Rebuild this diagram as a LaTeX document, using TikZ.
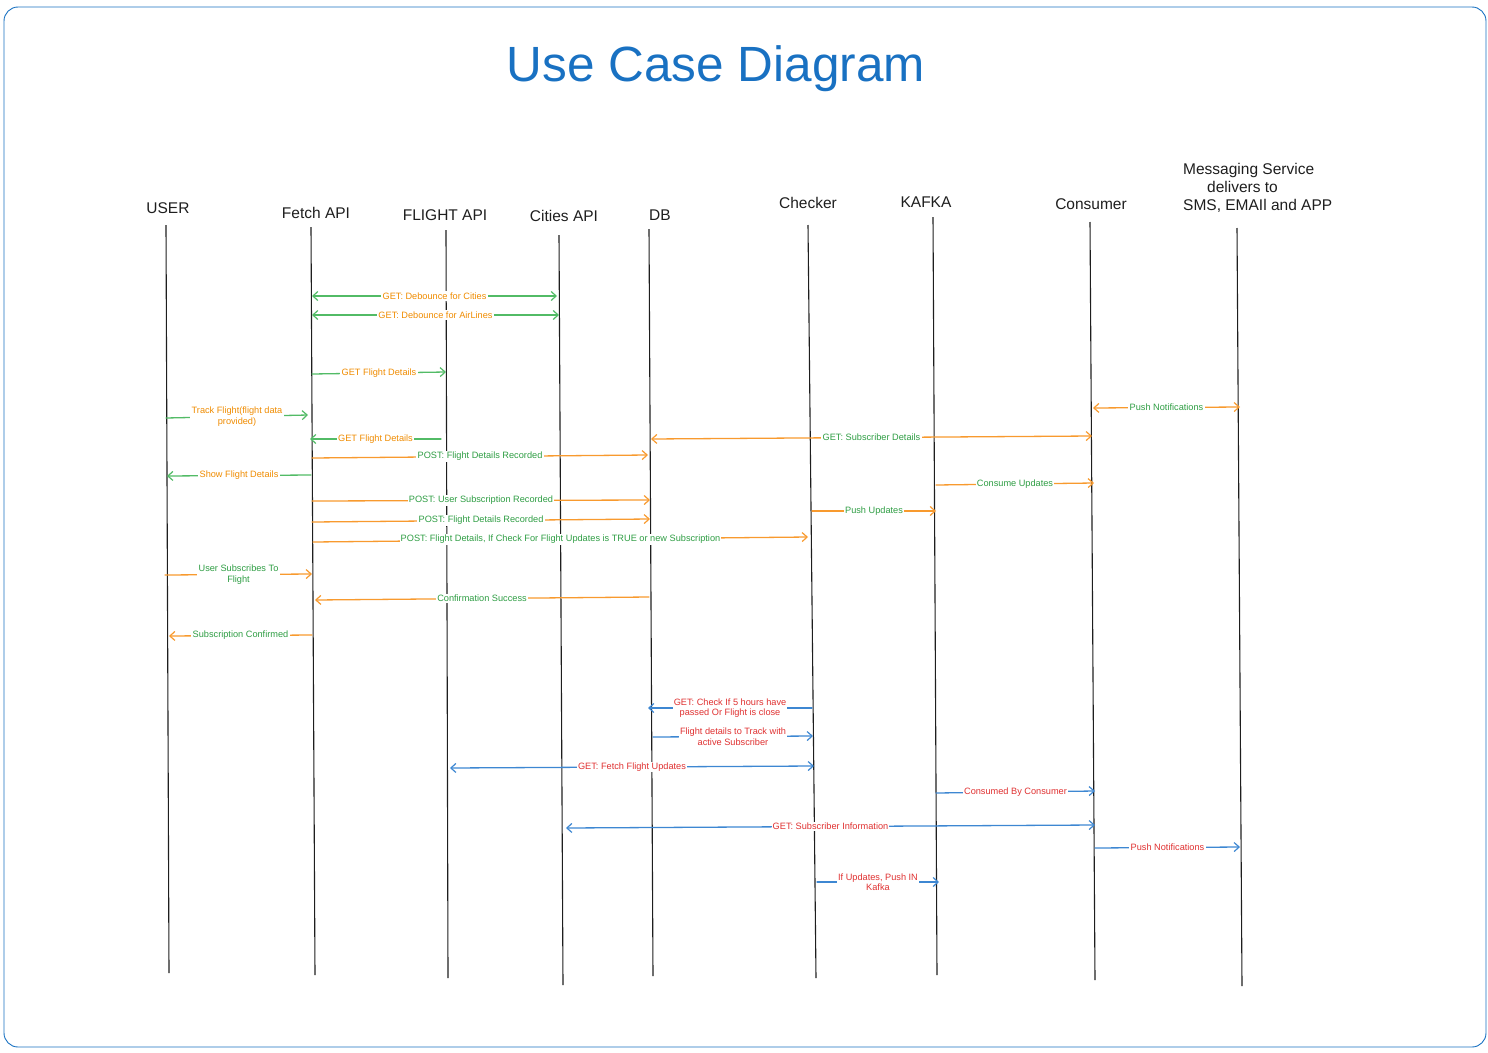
\documentclass[tikz,border=0pt]{standalone}
\usepackage{fontspec}
\setmainfont{Liberation Sans}
\usetikzlibrary{arrows.meta}
\definecolor{frameblue}{HTML}{1971C2}
\definecolor{lgreen}{HTML}{52BB66}
\definecolor{lorange}{HTML}{F89A2E}
\definecolor{lblue}{HTML}{3D87D2}
\definecolor{tgreen}{HTML}{2F9E44}
\definecolor{torange}{HTML}{F08C00}
\definecolor{tred}{HTML}{E03131}
\definecolor{ink}{HTML}{1E1E1E}
\begin{document}
\begin{tikzpicture}[x=1pt,y=-1pt,
  frame/.style={draw=frameblue, line width=0.9pt, rounded corners=14pt},
  head/.style={font=\fontsize{15.5}{18}\selectfont, text=ink, align=center, inner sep=0pt},
  life/.style={draw=ink, line width=1.1pt},
  msg/.style={line width=1.3pt, line cap=round},
  one/.style={-{Straight Barb[length=5pt,width=9pt,line width=1.2pt]}},
  two/.style={{Straight Barb[length=5pt,width=9pt,line width=1.2pt]}-{Straight Barb[length=5pt,width=9pt,line width=1.2pt]}},
  lbl/.style={fill=white, inner sep=1.2pt, font=\fontsize{9.2}{10.5}\selectfont, align=center},
  gmsg/.style={msg, draw=lgreen},
  omsg/.style={msg, draw=lorange},
  bmsg/.style={msg, draw=lblue},
  olbl/.style={lbl, text=torange},
  glbl/.style={lbl, text=tgreen},
  rlbl/.style={lbl, text=tred}
]
\useasboundingbox (0,0) rectangle (1488,1052);
\draw[frame] (4,7) rectangle (1486,1047);
\node[font=\fontsize{49.5}{54}\selectfont, text=frameblue, inner sep=0pt] (title) at (716,69) {Use Case Diagram};

% lifeline heads
\node[head] (user) at (168,208) {USER};
\node[head] (fetch) at (316,213) {Fetch API};
\node[head] (flight) at (445,215) {FLIGHT API};
\node[head] (cities) at (564,216) {Cities API};
\node[head] (db) at (660,215) {DB};
\node[head] (checker) at (808,203) {Checker};
\node[head] (kafka) at (926,202) {KAFKA};
\node[head] (consumer) at (1091,204) {Consumer};
\node[head, align=left, anchor=west] (msgsvc) at (1183,188) {Messaging Service\\\hspace*{24pt}delivers to\\SMS, EMAIl and APP};

% lifelines
\coordinate (userT) at (166,225);   \coordinate (userB) at (169,973);
\coordinate (fetchT) at (311,227);  \coordinate (fetchB) at (315,975);
\coordinate (flightT) at (446,230); \coordinate (flightB) at (448,978);
\coordinate (citiesT) at (559,235); \coordinate (citiesB) at (563,985);
\coordinate (dbT) at (649,229);     \coordinate (dbB) at (653,976);
\coordinate (checkerT) at (808,225);\coordinate (checkerB) at (816,978);
\coordinate (kafkaT) at (933,217);  \coordinate (kafkaB) at (937,975);
\coordinate (consT) at (1090,222);  \coordinate (consB) at (1095,980);
\coordinate (msgT) at (1237,228);   \coordinate (msgB) at (1242,986);
\draw[life] (userT) -- (userB);
\draw[life] (fetchT) -- (fetchB);
\draw[life] (flightT) -- (flightB);
\draw[life] (citiesT) -- (citiesB);
\draw[life] (dbT) -- (dbB);
\draw[life] (checkerT) -- (checkerB);
\draw[life] (kafkaT) -- (kafkaB);
\draw[life] (consT) -- (consB);
\draw[life] (msgT) -- (msgB);

% green-line messages with orange labels
\coordinate (a1) at (312,296); \coordinate (b1) at (557,296);
\draw[gmsg,two] (a1) -- node[olbl]{GET: Debounce for Cities} (b1);
\coordinate (a2) at (312,315); \coordinate (b2) at (559,315);
\draw[gmsg,two] (a2) -- node[olbl]{GET: Debounce for AirLines} (b2);
\coordinate (a3) at (312,374); \coordinate (b3) at (446,372);
\draw[gmsg,one] (a3) -- node[olbl]{GET Flight Details} (b3);
\coordinate (a4) at (166,418); \coordinate (b4) at (308,415);
\draw[gmsg,one] (a4) -- node[olbl]{Track Flight(flight data\\provided)} (b4);
\coordinate (a5) at (441,439); \coordinate (b5) at (310,439);
\draw[gmsg,one] (a5) -- node[olbl]{GET Flight Details} (b5);
\coordinate (a7) at (311,475); \coordinate (b7) at (167,476);
\draw[gmsg,one] (a7) -- node[olbl]{Show Flight Details} (b7);

% orange-line messages with green labels
\coordinate (a6) at (312,458); \coordinate (b6) at (648,455);
\draw[omsg,one] (a6) -- node[glbl]{POST: Flight Details Recorded} (b6);
\coordinate (a8) at (312,501); \coordinate (b8) at (650,500);
\draw[omsg,one] (a8) -- node[glbl]{POST: User Subscription Recorded} (b8);
\coordinate (a9) at (312,522); \coordinate (b9) at (650,519);
\draw[omsg,one] (a9) -- node[glbl]{POST: Flight Details Recorded} (b9);
\coordinate (a10) at (313,542); \coordinate (b10) at (808,537);
\draw[omsg,one] (a10) -- node[glbl]{POST: Flight Details, If Check For Flight Updates is TRUE or new Subscription} (b10);
\coordinate (a11) at (165,575); \coordinate (b11) at (312,574);
\draw[omsg,one] (a11) -- node[glbl]{User Subscribes To\\Flight} (b11);
\coordinate (a12) at (649,597); \coordinate (b12) at (315,600);
\draw[omsg,one] (a12) -- node[glbl]{Confirmation Success} (b12);
\coordinate (a13) at (312,635); \coordinate (b13) at (169,636);
\draw[omsg,one] (a13) -- node[glbl]{Subscription Confirmed} (b13);
\coordinate (a14) at (1093,408); \coordinate (b14) at (1240,407);
\draw[omsg,two] (a14) -- node[glbl]{Push Notifications} (b14);
\coordinate (a15) at (651,439); \coordinate (b15) at (1092,436);
\draw[omsg,two] (a15) -- node[glbl]{GET: Subscriber Details} (b15);
\coordinate (a16) at (936,485); \coordinate (b16) at (1094,483);
\draw[omsg,one] (a16) -- node[glbl]{Consume Updates} (b16);
\coordinate (a17) at (812,511); \coordinate (b17) at (936,511);
\draw[omsg,one] (a17) -- node[glbl]{Push Updates} (b17);

% blue-line messages with red labels
\coordinate (a18) at (812,708); \coordinate (b18) at (648,708);
\draw[bmsg,one] (a18) -- node[rlbl]{GET: Check If 5 hours have\\passed Or Flight is close} (b18);
\coordinate (a19) at (653,737); \coordinate (b19) at (813,736);
\draw[bmsg,one] (a19) -- node[rlbl]{Flight details to Track with\\active Subscriber} (b19);
\coordinate (a20) at (450,768); \coordinate (b20) at (814,766);
\draw[bmsg,two] (a20) -- node[rlbl]{GET: Fetch Flight Updates} (b20);
\coordinate (a21) at (936,793); \coordinate (b21) at (1095,791);
\draw[bmsg,one] (a21) -- node[rlbl]{Consumed By Consumer} (b21);
\coordinate (a22) at (566,828); \coordinate (b22) at (1095,825);
\draw[bmsg,two] (a22) -- node[rlbl]{GET: Subscriber Information} (b22);
\coordinate (a23) at (1095,848); \coordinate (b23) at (1240,847);
\draw[bmsg,one] (a23) -- node[rlbl]{Push Notifications} (b23);
\coordinate (a24) at (817,882); \coordinate (b24) at (939,882);
\draw[bmsg,one] (a24) -- node[rlbl]{If Updates, Push IN\\Kafka} (b24);
\end{tikzpicture}
\end{document}
